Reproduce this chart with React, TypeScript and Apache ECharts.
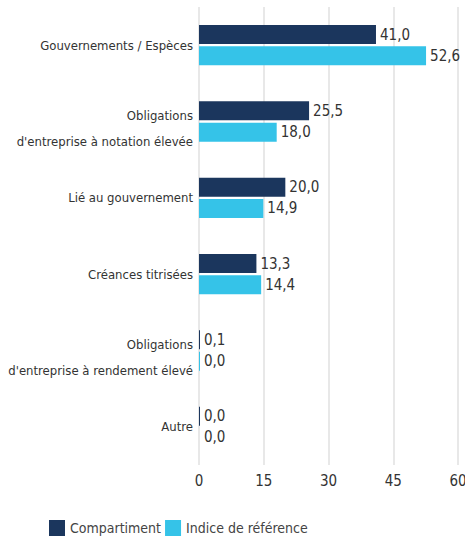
import React, { useEffect, useRef } from "react";
import * as echarts from "echarts";

const categories = [
  "Gouvernements / Espèces",
  "Obligations\nd'entreprise à notation élevée",
  "Lié au gouvernement",
  "Créances titrisées",
  "Obligations\nd'entreprise à rendement élevé",
  "Autre",
];
const compartiment = [41.0, 25.5, 20.0, 13.3, 0.1, 0.02];
const indice = [52.6, 18.0, 14.9, 14.4, 0.02, 0];
const seriesNames = ["Compartiment", "Indice de référence"];
const colors = ["#1b365d", "#35c3e8"];
const xTicks = { min: 0, max: 60, interval: 15 };

const FONT = "'Liberation Sans Narrow', 'DejaVu Sans Condensed', 'Roboto', sans-serif";

export default function App() {
  const ref = useRef<HTMLDivElement>(null);
  useEffect(() => {
    if (!ref.current) return;
    const chart = echarts.init(ref.current, undefined, { renderer: "svg" });
    const mkData = (arr: number[]) =>
      arr.map((v) =>
        v === 0 ? { value: v, itemStyle: { color: "transparent" } } : { value: v }
      );
    const labelCfg = {
      show: true,
      position: "right",
      distance: 4,
      color: "#333",
      fontFamily: FONT,
      fontSize: 15,
      formatter: (p: any) => Number(p.value).toFixed(1).replace(".", ","),
    };
    const richText = { color: "#333", fontSize: 13, fontFamily: FONT };
    chart.setOption({
      animation: false,
      textStyle: { fontFamily: FONT },
      grid: {
        left: 199,
        right: 7,
        top: 7,
        bottom: 72,
        containLabel: false,
        outerBoundsMode: "none",
      },
      legend: {
        data: seriesNames,
        left: 44,
        top: 515,
        itemWidth: 16,
        itemHeight: 16,
        itemGap: 4,
        icon: "rect",
        textStyle: { color: "#444", fontSize: 14, fontFamily: FONT },
      },
      xAxis: {
        type: "value",
        min: xTicks.min,
        max: xTicks.max,
        interval: xTicks.interval,
        axisLine: { show: false },
        axisTick: { show: false },
        axisLabel: { color: "#333", fontSize: 15, fontFamily: FONT, margin: 8 },
        splitLine: { show: true, lineStyle: { color: "#e8e8e8", width: 2 } },
      },
      yAxis: {
        type: "category",
        inverse: true,
        data: categories,
        axisLine: { show: false },
        axisTick: { show: false },
        axisLabel: {
          color: "#333",
          fontSize: 13,
          fontFamily: FONT,
          margin: 6,
          formatter: (v: string) =>
            v.includes("\n")
              ? "{s| }\n" + v.split("\n").map((l) => "{t|" + l + "}").join("\n")
              : v,
          rich: {
            s: { ...richText, lineHeight: 14 },
            t: { ...richText, lineHeight: 26 },
          },
        },
      },
      series: [
        {
          name: seriesNames[0],
          type: "bar",
          data: mkData(compartiment),
          itemStyle: { color: colors[0] },
          barWidth: 19,
          barGap: "12%",
          barCategoryGap: "47%",
          barMinHeight: 1,
          label: labelCfg,
        },
        {
          name: seriesNames[1],
          type: "bar",
          data: mkData(indice),
          itemStyle: { color: colors[1] },
          barWidth: 19,
          barMinHeight: 1,
          label: labelCfg,
        },
      ],
    });
    return () => chart.dispose();
  }, []);
  return (
    <div
      ref={ref}
      style={{ position: "absolute", left: 0, top: 0, width: 465, height: 537 }}
    />
  );
}
